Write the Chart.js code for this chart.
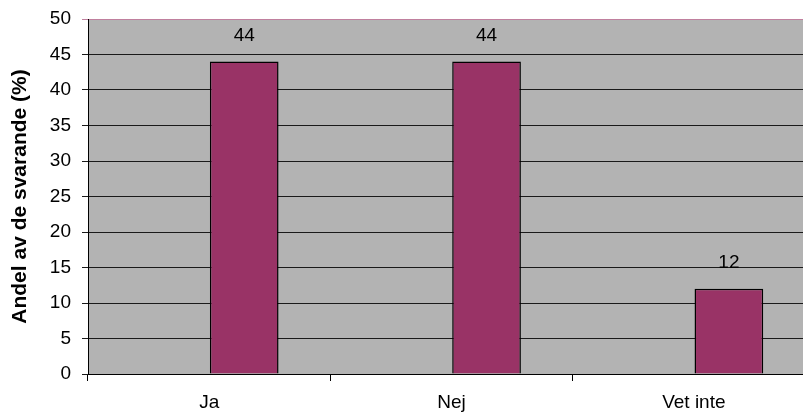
<!DOCTYPE html>
<html>
<head>
<meta charset="utf-8">
<script src="https://cdn.jsdelivr.net/npm/chart.js@4/dist/chart.umd.min.js"></script>
<style>
  body { margin: 0; background: #fff; overflow: hidden; }
  #wrap { position: relative; width: 815px; height: 420px; }
</style>
</head>
<body>
<div id="wrap"><canvas id="chart"></canvas></div>
<script>
// Svar på frågan, andel av de svarande (%)
const categories = ['Ja', 'Nej', 'Vet inte'];
const shares = [44, 44, 12];
const yTicks = [0, 5, 10, 15, 20, 25, 30, 35, 40, 45, 50];
const yTitle = 'Andel av de svarande (%)';

const FONT = '"Liberation Sans", Arial, sans-serif';

// Grey plot area like the old Excel chart
const plotBackground = {
    id: 'plotBackground',
    beforeDraw(chart) {
        const { ctx, chartArea: a } = chart;
        ctx.save();
        ctx.fillStyle = '#b3b3b3';
        ctx.fillRect(a.left, a.top, a.right - a.left, a.bottom - a.top);
        ctx.restore();
    }
};

// Value labels above the bars
const valueLabels = {
    id: 'valueLabels',
    afterDatasetsDraw(chart) {
        const { ctx } = chart;
        ctx.save();
        ctx.font = '19px ' + FONT;
        ctx.fillStyle = '#000';
        ctx.textAlign = 'center';
        ctx.textBaseline = 'middle';
        chart.getDatasetMeta(1).data.forEach((bar, i) => {
            ctx.fillText(String(shares[i]), bar.x, bar.y - 26);
        });
        ctx.restore();
    }
};

new Chart(document.getElementById('chart'), {
    type: 'bar',
    data: {
        labels: categories,
        datasets: [
            {
                // empty slot, pushes the real bars right of the category centre
                label: '',
                data: categories.map(() => null)
            },
            {
                label: yTitle,
                data: shares,
                backgroundColor: '#993366',
                borderColor: '#000',
                borderWidth: 1.5
            }
        ]
    },
    options: {
        responsive: true,
        maintainAspectRatio: false,
        animation: false,
        categoryPercentage: 0.5785,
        barPercentage: 0.98,
        layout: { padding: { top: 19, left: 0, right: 0, bottom: 0 } },
        plugins: {
            legend: { display: false },
            tooltip: { enabled: false }
        },
        scales: {
            x: {
                offset: true,
                afterFit(scale) { scale.height = 46; },
                grid: {
                    offset: true,
                    drawOnChartArea: false,
                    tickLength: 7,
                    color: '#000'
                },
                border: { color: '#000', width: 1 },
                ticks: {
                    color: '#000',
                    font: { family: FONT, size: 19 },
                    padding: 10,
                    maxRotation: 0
                }
            },
            y: {
                min: 0,
                max: 50,
                afterFit(scale) {
                    scale.width = 88;
                    scale.paddingTop = 0;
                    scale.paddingBottom = 0;
                },
                afterBuildTicks(scale) {
                    scale.ticks = yTicks.map(v => ({ value: v }));
                },
                grid: {
                    color: (c) => c.tick && c.tick.value === 50 ? '#c0809e' : '#1a1a1a',
                    lineWidth: 1,
                    tickLength: 6
                },
                border: { color: '#000', width: 1 },
                ticks: {
                    color: '#000',
                    font: { family: FONT, size: 19 },
                    padding: 11
                },
                title: {
                    display: true,
                    text: yTitle,
                    color: '#000',
                    font: { family: FONT, size: 21, weight: 'bold' },
                    padding: { top: 8, bottom: 0 }
                }
            }
        }
    },
    plugins: [plotBackground, valueLabels]
});
</script>
</body>
</html>
